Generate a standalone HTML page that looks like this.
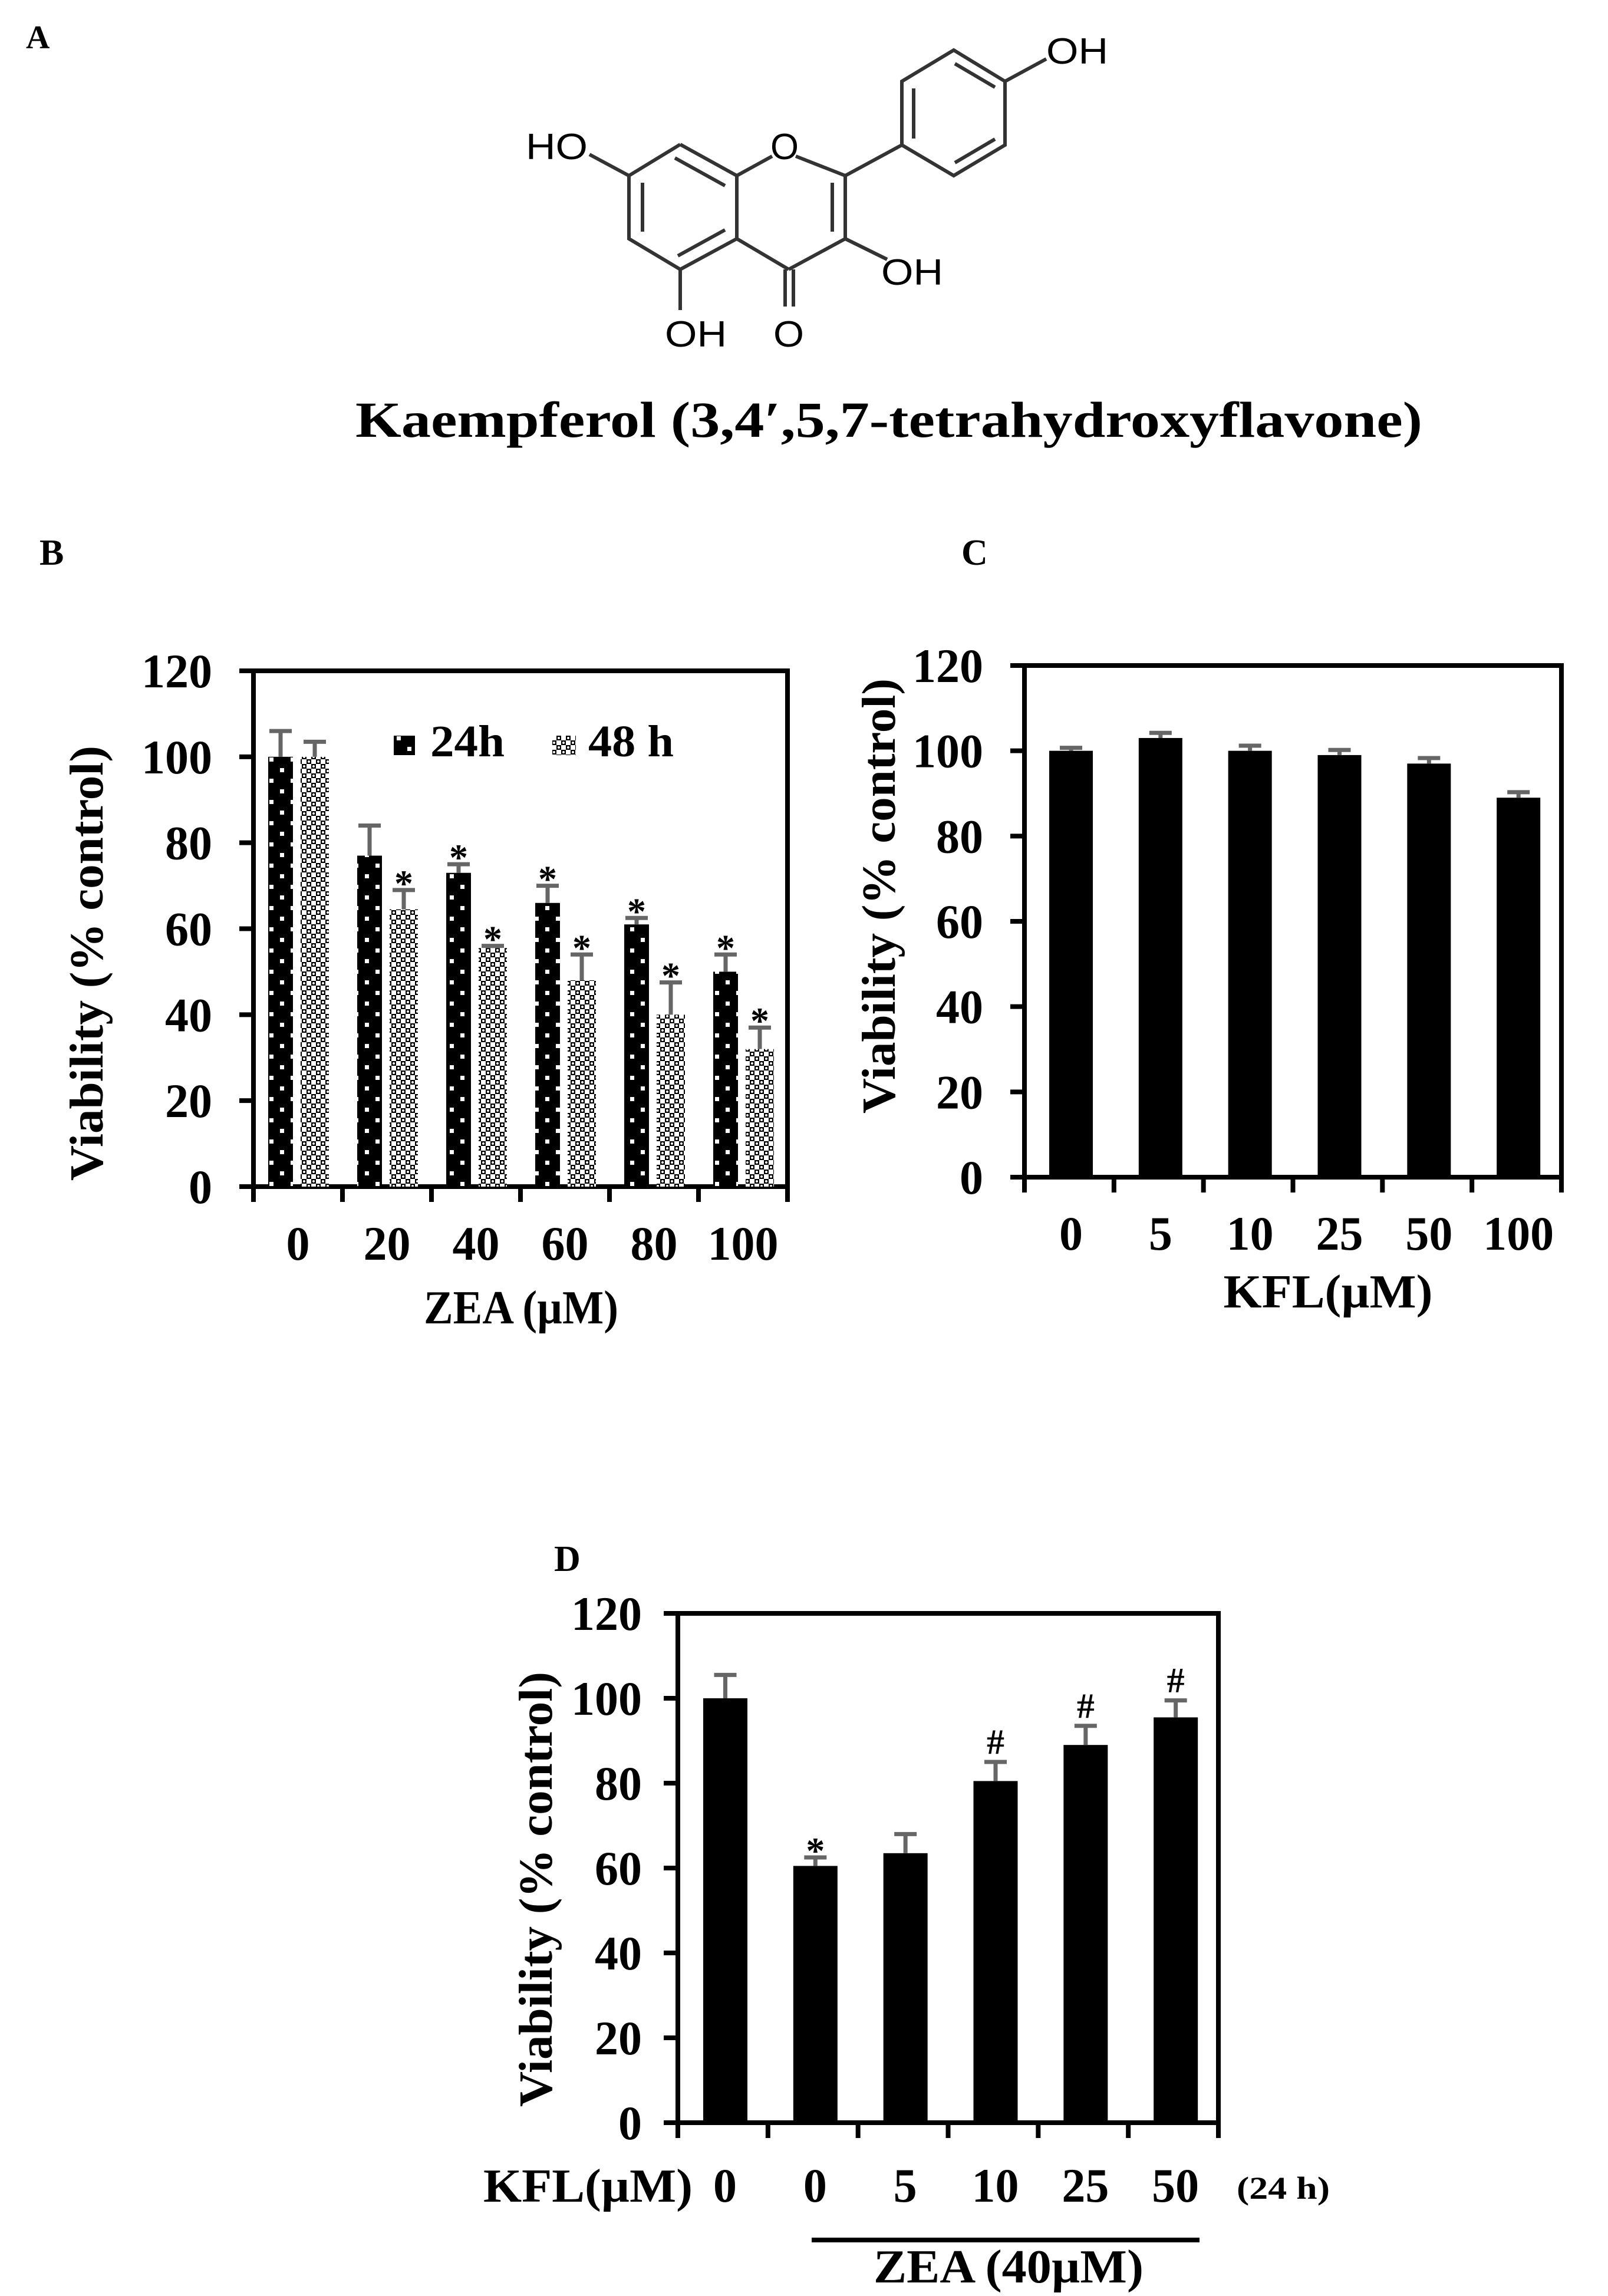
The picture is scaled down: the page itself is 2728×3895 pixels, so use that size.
<!DOCTYPE html>
<html><head><meta charset="utf-8"><style>
html,body{margin:0;padding:0;background:#fff}
svg{display:block}
text{font-family:"Liberation Serif","Times New Roman",serif;font-weight:bold;fill:#000}
.mol{font-family:"Liberation Sans",sans-serif;font-weight:normal}
</style></head><body>
<svg id="fig" width="2728" height="3895" viewBox="0 0 2728 3895" xmlns="http://www.w3.org/2000/svg">
<defs>
<pattern id="dots" width="36" height="36" patternUnits="userSpaceOnUse">
<rect width="36" height="36" fill="#000"/>
<rect x="7" y="7" width="7" height="7" fill="#fff"/><rect x="25" y="25" width="7" height="7" fill="#fff"/>
</pattern>
<pattern id="check" width="16" height="16" patternUnits="userSpaceOnUse">
<rect width="16" height="16" fill="#fff"/>
<rect x="0" y="0" width="8" height="8" fill="#000"/><rect x="8" y="8" width="8" height="8" fill="#000"/>
<circle cx="4" cy="4" r="2" fill="#fff"/><circle cx="12" cy="12" r="2" fill="#fff"/>
</pattern>
</defs>
<text x="44" y="82" font-size="56">A</text>
<g stroke="#333" stroke-width="6" fill="none">
<polyline points="1154,245 1250,298 1250,405 1154,457 1067,405 1067,298 1154,245"/>
<line x1="1145" y1="268" x2="1230" y2="315"/><line x1="1090" y1="310" x2="1090" y2="393"/><line x1="1150" y1="434" x2="1230" y2="390"/>
<line x1="1250" y1="298" x2="1310" y2="265"/><line x1="1350" y1="265" x2="1434" y2="298"/>
<line x1="1434" y1="298" x2="1434" y2="405"/><line x1="1412" y1="310" x2="1412" y2="393"/>
<line x1="1434" y1="405" x2="1338" y2="457"/><line x1="1338" y1="457" x2="1250" y2="405"/>
<line x1="1332" y1="457" x2="1332" y2="520"/><line x1="1346" y1="457" x2="1346" y2="520"/>
<line x1="1434" y1="405" x2="1505" y2="440"/>
<line x1="1154" y1="457" x2="1154" y2="526"/>
<line x1="1067" y1="298" x2="1000" y2="262"/>
<line x1="1434" y1="298" x2="1530" y2="246"/>
<polyline points="1530,246 1530,138 1618,85 1705,138 1705,246 1618,298 1530,246"/>
<line x1="1550" y1="150" x2="1550" y2="235"/><line x1="1620" y1="108" x2="1688" y2="148"/><line x1="1688" y1="236" x2="1620" y2="276"/>
<line x1="1705" y1="138" x2="1775" y2="100"/>
</g>
<g class="mol" font-size="62">
<text class="mol" x="1775" y="108" textLength="105" lengthAdjust="spacingAndGlyphs">OH</text>
<text class="mol" x="892" y="270" textLength="105" lengthAdjust="spacingAndGlyphs">HO</text>
<text class="mol" x="1307" y="270" textLength="48" lengthAdjust="spacingAndGlyphs">O</text>
<text class="mol" x="1495" y="483" textLength="105" lengthAdjust="spacingAndGlyphs">OH</text>
<text class="mol" x="1128" y="588" textLength="105" lengthAdjust="spacingAndGlyphs">OH</text>
<text class="mol" x="1312" y="588" textLength="52" lengthAdjust="spacingAndGlyphs">O</text>
</g>
<text x="603" y="741" font-size="86" textLength="1810" lengthAdjust="spacingAndGlyphs">Kaempferol (3,4′,5,7-tetrahydroxyflavone)</text>
<text x="67" y="958" font-size="62">B</text>
<text x="1631" y="958" font-size="62">C</text>
<text x="940" y="2665" font-size="62">D</text>
<g id="pB"></g>
<g id="pC"></g>
<g id="pD"></g>
</svg>
<script>
const yTicks=[0,20,40,60,80,100,120];
const bCats=["0","20","40","60","80","100"];
const b24=[100,77,73,66,61,50];
const b24err=[6,7,2,4,1.5,4];
const b24sig=["","","*","*","*","*"];
const b48=[100,64.5,55.5,48,40,32];
const b48err=[3.5,4.5,0.5,6,7.5,5];
const b48sig=["","*","*","*","*","*"];
const cCats=["0","5","10","25","50","100"];
const cVals=[100,103,100,99,97,89];
const cErr=[0.7,1.2,1.2,1.2,1.3,1.3];
const dCats=["0","0","5","10","25","50"];
const dVals=[100,60.5,63.5,80.5,89,95.5];
const dErr=[5.5,2,4.5,4.5,4.5,4];
const dSig=["","*","","#","#","#"];
const NS="http://www.w3.org/2000/svg";
function mk(tag,attrs,parent,txt){const e=document.createElementNS(NS,tag);for(const k in attrs)e.setAttribute(k,attrs[k]);if(txt!==undefined)e.textContent=txt;parent.appendChild(e);return e;}
function num(g,x,y,s,anchor,name){
  const l=mk('text',{x:x,y:y,'font-size':82,'text-anchor':anchor,textLength:s.length*40,lengthAdjust:'spacingAndGlyphs'},g,s);
  return l;
}
function axes(g,L,R,T,B,tcx,tcy,labRight){
  const y=v=>B-v/120*(B-T);
  const f=mk('rect',{x:L,y:T,width:R-L,height:B-T,fill:'none',stroke:'#000','stroke-width':8},g);
  
  yTicks.forEach(v=>{
    const t=mk('line',{x1:L-24,x2:L,y1:y(v),y2:y(v),stroke:'#000','stroke-width':8},g);
    
    num(g,labRight,y(v)+28,String(v),'end','y-tick-label');
  });
  const cw=(R-L)/6;
  for(let i=0;i<=6;i++){const t=mk('line',{x1:L+i*cw,x2:L+i*cw,y1:B,y2:B+26,stroke:'#000','stroke-width':8},g);
    }
  const yt=mk('text',{x:0,y:0,'font-size':80,'text-anchor':'middle',transform:`translate(${tcx+28},${tcy}) rotate(-90)`,textLength:738,lengthAdjust:'spacingAndGlyphs'},g,'Viability  (% control)');
  
  return {y,cw};
}
function bar(g,x,w,v,err,y,fill,name,sig){
  const r=mk('rect',{x:x,y:y(v),width:w,height:y(0)-y(v),fill:fill},g);
  
  const cx=x+w/2,top=y(v+err);
  const e=mk('path',{d:`M${cx},${y(v)} V${top} M${cx-19},${top} H${cx+19}`,stroke:'#666','stroke-width':7,fill:'none'},g);
  
  if(sig){const s=mk('text',{x:cx,y:sig==='*'?top+10:top-14,'font-size':sig==='*'?64:60,'text-anchor':'middle','font-weight':'normal',fill:'#222'},g,sig);
    }
}
// Panel B
(function(){
  const g=document.getElementById('pB');const L=430,R=1336,T=1138,B=2013;
  const {y,cw}=axes(g,L,R,T,B,146,1634,360);
  bCats.forEach((c,i)=>{
    const x0=L+i*cw;
    bar(g,x0+25,42,b24[i],b24err[i],y,'url(#dots)','bar-24h-'+c,b24sig[i]);
    bar(g,x0+80,48,b48[i],b48err[i],y,'url(#check)','bar-48h-'+c,b48sig[i]);
    num(g,x0+cw/2,2137,c,'middle','x-tick-label');
  });
  const xt=mk('text',{x:884,y:2245,'font-size':80,'text-anchor':'middle',textLength:330,lengthAdjust:'spacingAndGlyphs'},g,'ZEA (µM)');
  
  const s1=mk('rect',{x:668,y:1248,width:36,height:33,fill:'url(#dots)'},g);
  
  const t1=mk('text',{x:730,y:1283,'font-size':76,textLength:126,lengthAdjust:'spacingAndGlyphs'},g,'24h');
  
  const s2=mk('rect',{x:937,y:1248,width:40,height:33,fill:'url(#check)'},g);
  
  const t2=mk('text',{x:998,y:1283,'font-size':76,textLength:145,lengthAdjust:'spacingAndGlyphs'},g,'48 h');
  
})();
// Panel C
(function(){
  const g=document.getElementById('pC');const L=1738,R=2649,T=1129,B=1997;
  const {y,cw}=axes(g,L,R,T,B,1490,1520,1668);
  cCats.forEach((c,i)=>{
    const x0=L+i*cw;
    bar(g,x0+42,74,cVals[i],cErr[i],y,'#000','bar-kfl-'+c,'');
    num(g,x0+79,2120,c,'middle','x-tick-label');
  });
  const xt=mk('text',{x:2253,y:2218,'font-size':80,'text-anchor':'middle',textLength:355,lengthAdjust:'spacingAndGlyphs'},g,'KFL(µM)');
  
})();
// Panel D
(function(){
  const g=document.getElementById('pD');const L=1150,R=2067,T=2737,B=3601;
  const {y,cw}=axes(g,L,R,T,B,908,3205,1089);
  dCats.forEach((c,i)=>{
    const x0=L+i*cw;
    bar(g,x0+43,75,dVals[i],dErr[i],y,'#000','bar-d-'+i,dSig[i]);
    num(g,x0+80,3735,c,'middle','x-tick-label');
  });
  const k=mk('text',{x:820,y:3735,'font-size':80,textLength:355,lengthAdjust:'spacingAndGlyphs'},g,'KFL(µM)');
  
  const h=mk('text',{x:2098,y:3730,'font-size':54,textLength:158,lengthAdjust:'spacingAndGlyphs'},g,'(24 h)');
  
  const u=mk('line',{x1:1377,x2:2035,y1:3800,y2:3800,stroke:'#000','stroke-width':8},g);
  
  const z=mk('text',{x:1711,y:3872,'font-size':80,'text-anchor':'middle',textLength:458,lengthAdjust:'spacingAndGlyphs'},g,'ZEA (40µM)');
  
})();
</script>
</body></html>
